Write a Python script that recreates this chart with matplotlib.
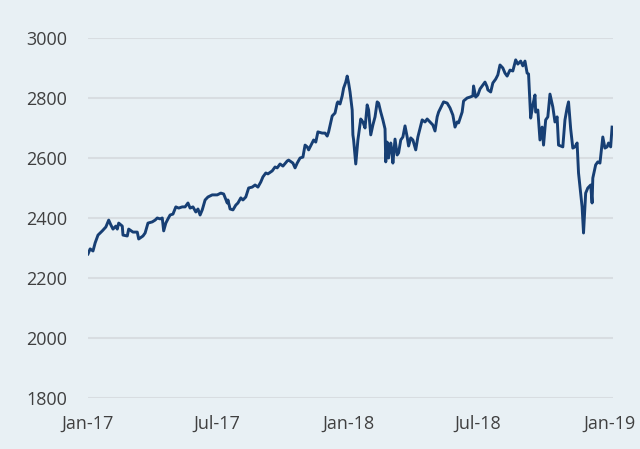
import pandas as pd
import matplotlib.pyplot as plt
import matplotlib.dates as mdates

# days since 2017-01-01 and index level
day = [0, 3, 7, 10, 14, 20, 25, 29, 32, 35, 39, 41, 43, 48, 49, 55, 57, 63, 69, 71,
       77, 80, 84, 90, 94, 97, 101, 104, 106, 109, 112, 115, 119, 123, 127, 132, 136, 140, 143, 147,
       151, 154, 157, 160, 164, 168, 174, 181, 186, 190, 195, 196, 199, 203, 207, 210, 214, 217, 221, 225,
       230, 234, 238, 242, 245, 249, 252, 258, 262, 265, 269, 273, 279, 281, 287, 290, 293, 297, 301, 304,
       307, 309, 314, 316, 319, 322, 328, 332, 335, 337, 342, 346, 349, 350, 353, 356, 358, 361, 363, 365,
       367, 370, 371, 372, 375, 378, 382, 385, 388, 391, 393, 396, 399, 402, 405, 407, 410, 413, 416, 417,
       419, 421, 424, 426, 427, 430, 433, 435, 438, 441, 444, 447, 449, 452, 455, 459, 462, 468, 472, 475,
       479, 483, 486, 489, 491, 496, 498, 503, 507, 511, 514, 517, 519, 524, 526, 531, 535, 539, 540, 543,
       546, 549, 553, 556, 559, 560, 564, 567, 571, 574, 577, 581, 584, 587, 591, 595, 599, 602, 606, 609,
       612, 615, 617, 620, 623, 626, 627, 630, 633, 636, 638, 641, 644, 647, 651, 654, 657, 659, 665, 668,
       671, 673, 676, 679, 682, 685, 687, 692, 694, 697, 700, 704, 706, 707, 711, 714, 717, 721, 724, 727,
       729, 732, 734]
level = [2280, 2297, 2290, 2317, 2343, 2357, 2370, 2393, 2377, 2363, 2373, 2363, 2383, 2373, 2343, 2340, 2363, 2353, 2353, 2330,
         2340, 2350, 2383, 2387, 2393, 2400, 2397, 2400, 2357, 2383, 2397, 2410, 2413, 2437, 2433, 2437, 2437, 2450, 2433, 2437,
         2420, 2430, 2410, 2427, 2460, 2470, 2477, 2477, 2483, 2480, 2450, 2460, 2430, 2427, 2443, 2450, 2467, 2460, 2470, 2500,
         2503, 2510, 2503, 2520, 2537, 2550, 2547, 2557, 2570, 2567, 2580, 2573, 2590, 2593, 2583, 2567, 2583, 2600, 2603, 2643,
         2637, 2627, 2650, 2660, 2653, 2687, 2683, 2683, 2673, 2687, 2740, 2750, 2783, 2787, 2780, 2807, 2833, 2853, 2873, 2850,
         2820, 2760, 2677, 2660, 2580, 2660, 2730, 2720, 2700, 2777, 2760, 2677, 2710, 2737, 2787, 2783, 2753, 2727, 2697, 2587,
         2653, 2600, 2650, 2617, 2583, 2663, 2610, 2617, 2660, 2670, 2707, 2670, 2640, 2667, 2660, 2627, 2670, 2727, 2720, 2730,
         2720, 2710, 2690, 2737, 2753, 2777, 2787, 2783, 2767, 2743, 2703, 2720, 2717, 2753, 2790, 2800, 2803, 2807, 2840, 2803,
         2810, 2830, 2843, 2853, 2837, 2827, 2820, 2850, 2863, 2877, 2910, 2900, 2883, 2873, 2893, 2890, 2927, 2913, 2923, 2907,
         2923, 2883, 2880, 2733, 2777, 2810, 2753, 2760, 2660, 2703, 2643, 2727, 2737, 2813, 2770, 2720, 2737, 2643, 2637, 2727,
         2767, 2787, 2697, 2633, 2637, 2650, 2550, 2437, 2350, 2483, 2500, 2510, 2450, 2533, 2577, 2587, 2583, 2670, 2633, 2637,
         2650, 2637, 2703]

tick_dates = ["2017-01-01", "2017-07-01", "2018-01-01", "2018-07-01", "2019-01-01"]
y_ticks = [1800, 2000, 2200, 2400, 2600, 2800, 3000]

bg = "#e8f0f4"
dates = pd.Timestamp("2017-01-01") + pd.to_timedelta(day, unit="D")

fig = plt.figure(figsize=(6.4, 4.49), dpi=100, facecolor=bg)
ax = fig.add_axes([0.1375, 0.1136, 0.82, 0.8018], facecolor=bg)

ax.plot(dates, level, color="#173f74", lw=2.1, solid_joinstyle="round")

ax.set_ylim(1800, 3000)
ax.set_yticks(y_ticks)
ax.set_xlim(dates[0], pd.Timestamp("2019-01-06"))
ax.set_xticks(pd.to_datetime(tick_dates))
ax.xaxis.set_major_formatter(mdates.DateFormatter("%b-%y"))

ax.grid(axis="y", color="#d8dde1", lw=1.5)
ax.set_axisbelow(True)
for s in ax.spines.values():
    s.set_visible(False)
ax.tick_params(length=0, labelsize=13, labelcolor="#404040")
ax.tick_params(axis="x", pad=12)
ax.tick_params(axis="y", pad=15)
for lab in ax.get_xticklabels() + ax.get_yticklabels():
    lab.set_family(["Open Sans", "DejaVu Sans"])

fig.savefig("out.png", dpi=100, facecolor=bg)
